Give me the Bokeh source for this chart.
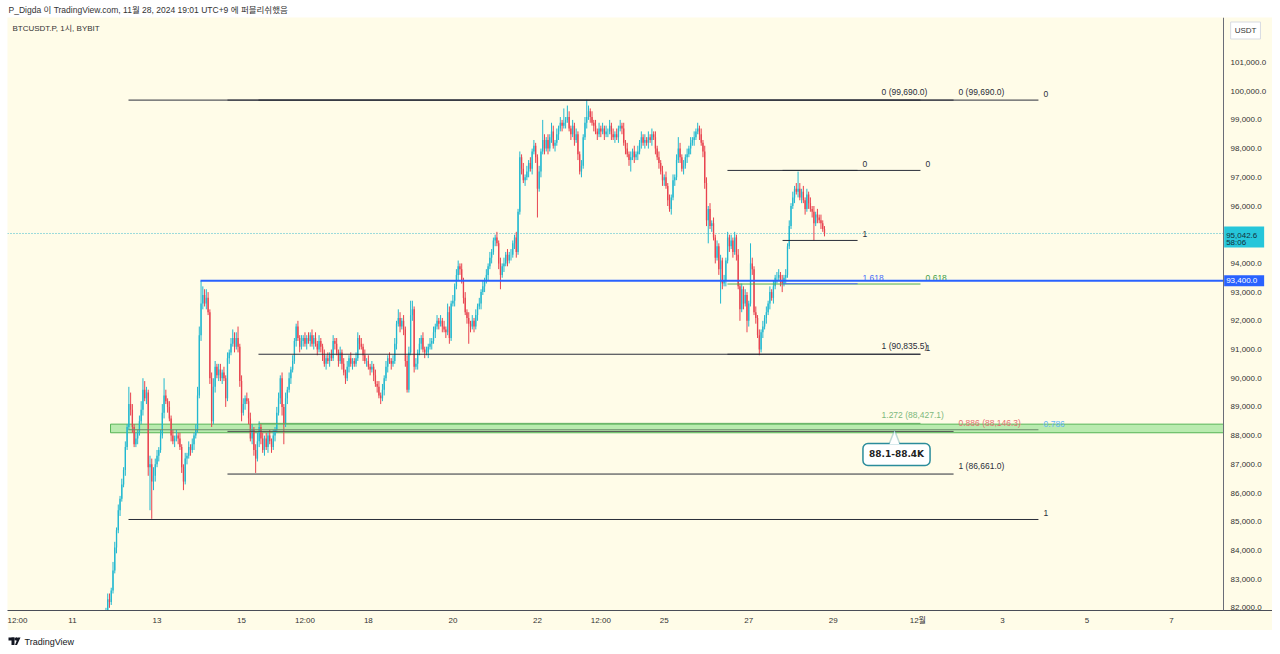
from bokeh.plotting import figure
from bokeh.models import (Range1d, FixedTicker, NumeralTickFormatter, Label, BoxAnnotation,
                          ColumnDataSource, PolyAnnotation, AllLabels, Spacer)
from bokeh.layouts import column, row
from bokeh.embed import file_html
from bokeh.resources import INLINE
from bokeh.core.properties import value

# ---------------- data (BTCUSDT.P, 1h candles, UTC+9) ----------------
# x = hours after 2024-11-11 00:00 (UTC+9)
start_hour = 16
first_open_k = 81.3
# hourly closes in thousand USDT, one row per day (Nov 11 from 16:00 ... Nov 28 to 19:00)
close_k = [
    81.4, 81.6, 81.7, 81.9, 82.3, 82.2, 82.6, 83.3,
    84.1, 84.7, 85.4, 85.8, 86.3, 86.8, 87.6, 88.3, 89.1, 88.9, 88.3, 87.7, 87.9, 88.1, 88.5, 88.9, 89.6, 89.3, 89.5, 86.9, 87.0, 86.4, 86.6, 87.0,
    87.3, 87.5, 88.0, 88.8, 89.4, 89.2, 89.0, 88.6, 88.0, 87.8, 87.9, 88.0, 87.9, 87.6, 86.9, 86.4, 87.2, 87.3, 87.6, 87.5, 87.7, 88.0, 88.2, 89.4,
    91.5, 92.6, 92.9, 92.6, 92.8, 92.3, 90.0, 88.5, 89.7, 90.4, 90.1, 90.3, 90.0, 90.2, 90.0, 89.3, 90.7, 90.9, 91.2, 91.4, 91.1, 91.4, 91.1, 89.9,
    88.8, 89.1, 89.3, 89.2, 88.6, 87.9, 88.2, 87.5, 87.2, 87.8, 88.3, 87.9, 87.5, 87.9, 87.6, 88.0, 87.8, 87.6, 88.0, 88.2, 88.8, 89.3, 90.0, 89.0,
    88.4, 89.3, 89.6, 90.0, 90.3, 90.6, 91.3, 91.8, 91.4, 91.1, 91.3, 91.4, 91.2, 91.4, 91.3, 91.5, 91.2, 91.4, 91.2, 91.0, 91.3, 91.1, 90.8, 90.5,
    90.7, 90.6, 90.8, 90.7, 91.3, 91.2, 90.9, 90.6, 90.9, 90.5, 90.2, 90.0, 90.4, 90.7, 90.5, 90.6, 90.5, 90.7, 91.4, 91.2, 91.1, 90.8, 90.6, 90.6,
    90.4, 90.3, 90.4, 90.1, 89.8, 89.7, 89.4, 89.3, 89.6, 90.0, 90.4, 90.7, 90.6, 90.5, 90.6, 91.2, 91.9, 92.1, 91.8, 92.0, 91.7, 90.6, 89.6, 90.9,
    92.2, 92.4, 90.4, 90.5, 90.9, 91.2, 91.4, 91.0, 90.9, 90.9, 91.1, 91.2, 91.3, 91.6, 91.8, 92.0, 91.9, 92.0, 91.8, 91.7, 91.6, 92.3, 91.4, 92.6,
    92.7, 93.2, 93.6, 93.9, 93.8, 93.4, 92.8, 92.3, 92.1, 91.9, 91.8, 92.0, 91.8, 92.2, 92.5, 92.6, 93.0, 93.2, 93.4, 93.6, 93.9, 94.2, 94.4, 94.8,
    94.9, 94.7, 94.0, 93.6, 93.9, 94.0, 94.3, 94.1, 94.3, 94.3, 94.7, 94.9, 94.4, 95.8, 97.7, 97.3, 96.9, 97.0, 97.2, 97.5, 97.3, 97.9, 98.1, 97.7,
    96.6, 97.2, 97.9, 98.3, 98.0, 98.3, 98.0, 98.4, 98.6, 98.1, 98.2, 98.5, 98.7, 98.9, 98.8, 98.9, 99.0, 99.1, 98.7, 98.5, 98.8, 98.3, 98.5, 97.8,
    97.2, 97.4, 98.4, 98.9, 99.1, 99.3, 99.1, 98.9, 98.8, 98.6, 98.5, 98.7, 98.6, 98.7, 98.5, 98.6, 98.6, 98.8, 98.5, 98.4, 98.5, 98.4, 98.7, 98.8,
    98.7, 98.2, 98.0, 97.8, 97.6, 97.7, 97.9, 97.7, 97.8, 97.9, 98.2, 98.4, 98.2, 98.3, 98.2, 98.4, 98.3, 98.5, 98.4, 98.0, 97.7, 97.5, 97.2, 96.9,
    97.0, 96.7, 96.2, 95.9, 96.3, 96.9, 97.0, 97.6, 98.0, 97.7, 97.3, 97.4, 97.7, 97.8, 98.0, 98.2, 98.3, 98.4, 98.6, 98.7, 98.5, 98.2, 97.9, 96.8,
    95.5, 95.9, 95.3, 95.4, 94.9, 94.2, 94.6, 93.8, 94.1, 93.3, 93.4, 94.1, 94.9, 94.6, 94.8, 94.4, 94.9, 94.3, 93.2, 92.4, 93.1, 92.6, 92.9, 92.0,
    92.6, 94.0, 93.8, 92.3, 92.1, 91.5, 91.0, 91.6, 91.8, 92.1, 92.3, 92.6, 93.0, 92.8, 93.2, 93.5, 93.5, 93.6, 93.4, 93.3, 93.5, 93.6, 94.6, 95.3,
    96.0, 96.3, 96.6, 96.5, 96.6, 96.3, 96.5, 96.2, 95.9, 96.4, 96.1, 95.9, 95.8, 95.4, 95.7, 95.6, 95.5, 95.4, 95.2, 95.0426,
]
# upper / lower wick beyond the body, in hundreds of USDT
wick_up = [
    1, 1, 2, 1, 2, 2, 1, 3,
    2, 1, 2, 1, 2, 1, 2, 1, 6, 4, 2, 1, 2, 1, 2, 3, 4, 3, 2, 1, 3, 2, 3, 2,
    2, 1, 2, 3, 6, 2, 1, 2, 1, 2, 1, 2, 1, 2, 1, 1, 2, 1, 2, 1, 2, 1, 2, 3,
    3, 8, 3, 2, 3, 2, 1, 2, 3, 2, 1, 2, 2, 1, 2, 1, 2, 1, 2, 3, 2, 2, 4, 1,
    2, 2, 1, 2, 1, 2, 2, 1, 2, 3, 2, 1, 2, 1, 2, 1, 2, 1, 2, 1, 2, 2, 1, 2,
    1, 2, 1, 2, 1, 2, 1, 1, 2, 1, 2, 1, 2, 1, 2, 1, 2, 1, 2, 1, 2, 1, 1, 2,
    1, 2, 1, 2, 2, 1, 2, 1, 2, 1, 2, 1, 2, 1, 2, 1, 1, 2, 2, 1, 2, 1, 2, 1,
    2, 1, 2, 1, 2, 1, 2, 1, 2, 1, 2, 1, 2, 1, 2, 2, 1, 3, 2, 1, 2, 1, 2, 2,
    5, 3, 1, 2, 1, 2, 1, 2, 1, 2, 1, 2, 1, 2, 1, 2, 1, 2, 1, 2, 1, 3, 2, 1,
    2, 1, 2, 2, 1, 2, 1, 2, 1, 2, 1, 2, 1, 2, 1, 2, 1, 2, 1, 2, 1, 2, 1, 1,
    1, 2, 1, 2, 1, 2, 1, 2, 1, 2, 1, 1, 2, 1, 2, 1, 2, 1, 2, 1, 2, 1, 2, 1,
    1, 2, 1, 7, 2, 1, 2, 1, 3, 2, 1, 2, 1, 2, 1, 5, 1, 4, 2, 1, 2, 1, 2, 1,
    1, 2, 1, 2, 6, 2, 1, 2, 1, 2, 1, 2, 1, 2, 1, 2, 1, 2, 1, 2, 1, 2, 1, 2,
    1, 2, 1, 2, 1, 2, 1, 2, 1, 2, 1, 2, 1, 2, 1, 2, 1, 2, 1, 2, 1, 2, 1, 2,
    1, 2, 1, 2, 1, 2, 1, 2, 4, 2, 1, 2, 1, 2, 1, 2, 1, 2, 1, 2, 1, 2, 1, 2,
    2, 1, 2, 1, 2, 1, 2, 1, 2, 1, 2, 1, 2, 1, 2, 1, 2, 1, 2, 1, 2, 1, 2, 1,
    1, 7, 2, 1, 2, 1, 2, 1, 2, 1, 2, 1, 2, 1, 2, 1, 2, 2, 1, 2, 1, 2, 1, 2,
    1, 2, 1, 2, 6, 2, 1, 2, 1, 2, 1, 2, 1, 2, 1, 2, 1, 2, 1, 1,
]
wick_dn = [
    1, 2, 1, 1, 1, 2, 1, 1,
    1, 2, 1, 2, 1, 1, 2, 1, 1, 2, 2, 1, 1, 2, 1, 1, 2, 1, 2, 3, 15, 13, 3, 2,
    1, 2, 1, 1, 2, 1, 2, 1, 2, 1, 2, 1, 2, 1, 2, 3, 1, 2, 1, 2, 1, 2, 1, 1,
    1, 2, 2, 1, 2, 1, 2, 2, 1, 2, 1, 2, 1, 2, 1, 3, 1, 2, 1, 1, 2, 1, 2, 2,
    3, 1, 2, 1, 2, 1, 2, 2, 5, 1, 2, 2, 1, 2, 1, 2, 1, 2, 1, 2, 1, 1, 2, 3,
    7, 1, 2, 1, 2, 1, 1, 2, 1, 2, 1, 2, 1, 2, 1, 2, 1, 2, 1, 2, 1, 2, 2, 1,
    2, 1, 2, 1, 1, 2, 1, 2, 1, 2, 1, 2, 1, 2, 1, 2, 1, 1, 1, 2, 1, 2, 1, 2,
    1, 2, 1, 2, 1, 2, 1, 2, 1, 2, 1, 2, 1, 2, 1, 1, 2, 1, 2, 1, 2, 2, 1, 1,
    1, 2, 2, 1, 2, 1, 2, 1, 2, 1, 2, 1, 2, 1, 2, 1, 2, 1, 2, 1, 2, 1, 2, 1,
    1, 2, 1, 2, 2, 1, 2, 1, 2, 7, 2, 1, 2, 1, 2, 1, 2, 1, 2, 1, 2, 1, 2, 1,
    2, 1, 2, 5, 1, 2, 1, 2, 1, 2, 1, 2, 2, 1, 1, 2, 1, 2, 1, 2, 1, 2, 1, 2,
    10, 1, 2, 1, 2, 1, 2, 1, 2, 1, 2, 1, 2, 1, 2, 1, 2, 1, 1, 2, 1, 2, 1, 2,
    1, 2, 1, 1, 2, 1, 2, 1, 2, 1, 2, 1, 2, 1, 2, 1, 2, 1, 2, 1, 2, 1, 2, 1,
    2, 1, 2, 1, 2, 4, 1, 2, 1, 2, 1, 2, 1, 2, 1, 2, 1, 2, 1, 2, 1, 2, 1, 2,
    2, 1, 2, 1, 2, 1, 2, 1, 1, 2, 1, 2, 1, 2, 1, 2, 1, 2, 1, 1, 2, 1, 2, 2,
    2, 8, 1, 2, 1, 2, 1, 2, 12, 2, 1, 2, 1, 2, 1, 2, 1, 2, 1, 4, 1, 2, 1, 4,
    2, 1, 2, 1, 2, 1, 2, 1, 2, 1, 2, 1, 2, 1, 2, 1, 2, 1, 2, 3, 1, 2, 1, 1,
    1, 1, 2, 1, 2, 1, 2, 1, 2, 1, 2, 1, 2, 6, 1, 2, 1, 2, 1, 1,
]

last_price = 95042.6
countdown = "58:06"
hline_price = 93400.0
hline_start_h = 72.7
zone_low, zone_high = 88100.0, 88400.0
zone_start_h = 21.6
callout_text = "88.1-88.4K"

# Fibonacci drawings: level prices with start / end time (hours) and the label time
fib_price = [99690.0, 88205.0, 85078.0,
             99690.0, 88146.3, 86661.0,
             99690.0, 90835.5, 88427.1,
             97240.0, 93282.0, 90835.5,
             97240.0, 94800.0, 93292.0]
fib_h0 = [31.8] * 3 + [88.0] * 3 + [105.6] * 3 + [371.9] * 3 + [403.2] * 3
fib_h1 = [548.5] * 3 + [500.3] * 3 + [481.5] * 3 + [481.5] * 3 + [445.8] * 3
fib_label_h = [551.4] * 3 + [503.1] * 3 + [459.4] * 3 + [484.4] * 3 + [448.6] * 3
fib_text = ["0", "0.786", "1",
            "0 (99,690.0)", "0.886 (88,146.3)", "1 (86,661.0)",
            "0 (99,690.0)", "1 (90,835.5)", "1.272 (88,427.1)",
            "0", "0.618", "1",
            "0", "1", "1.618"]

# x-axis ticks (hours after Nov 11 00:00) and labels
xtick_h = [-36, 0, 48, 96, 132, 168, 216, 264, 300, 336, 384, 432, 480, 528, 576, 624]
xtick_lab = ["12:00", "11", "13", "15", "12:00", "18", "20", "22", "12:00",
             "25", "27", "29", "12월", "3", "5", "7"]
ytick_vals = list(range(82000, 102000, 1000))

header_text = "P_Digda 이 TradingView.com, 11월 28, 2024 19:01 UTC+9 에 퍼블리쉬했음"
symbol_text = "BTCUSDT.P, 1시, BYBIT"

# ---------------- styles / geometry ----------------
BG = "#fffce8"
UP, DN = "#22b8d0", "#e8434f"
FONT = "Liberation Sans, Noto Sans CJK KR"
fib_line_color = ["#2a2e39", "#6b8e6b", "#2a2e39",
                  "#2a2e39", "#555555", "#2a2e39",
                  "#2a2e39", "#2a2e39", "#5fae5f",
                  "#2a2e39", "#4caf50", "#2a2e39",
                  "#2a2e39", "#2a2e39", "#4a6cf7"]
fib_text_color = ["#2a2e39", "#64b5f6", "#2a2e39",
                  "#2a2e39", "#e57373", "#2a2e39",
                  "#2a2e39", "#2a2e39", "#7cb87c",
                  "#2a2e39", "#43a047", "#2a2e39",
                  "#2a2e39", "#2a2e39", "#4a6cf7"]

X0, X1 = -36.91, 681.4      # frame spans the price-scale strip too
XA = 653.6                  # where the price scale begins
Y0, Y1 = 81907.0, 102568.0
PX_H = 1.761                # pixels per hour
USD_PX = 34.84              # USDT per pixel
TAG_W = 40 / PX_H           # price-tag width in hours

# ---------------- candles ----------------
n = min(len(close_k), len(wick_up), len(wick_dn))
hours = [start_hour + i for i in range(n)]
closes = [c * 1000 for c in close_k[:n]]
opens = [first_open_k * 1000] + closes[:-1]
highs = [max(o, c) + u * 100 for o, c, u in zip(opens, closes, wick_up)]
lows = [min(o, c) - d * 100 for o, c, d in zip(opens, closes, wick_dn)]
colors = [UP if c >= o else DN for o, c in zip(opens, closes)]
src = ColumnDataSource(dict(x=hours, top=[max(o, c) for o, c in zip(opens, closes)],
                            bottom=[min(o, c) for o, c in zip(opens, closes)],
                            high=highs, low=lows, color=colors))

# ---------------- header ----------------
hdr = figure(width=1272, height=17, x_range=Range1d(0, 1272), y_range=Range1d(0, 17),
             output_backend="svg", toolbar_location=None,
             x_axis_location=None, y_axis_location=None,
             min_border_left=0, min_border_right=0, min_border_top=0, min_border_bottom=0)
hdr.outline_line_color = None
hdr.grid.visible = False
hdr.background_fill_color = "white"
hdr.border_fill_color = "white"
hdr.text(x=[8], y=[8], text=[header_text], text_font=value(FONT), text_font_size="8.5px",
         text_baseline="middle", text_color="#333333")

# ---------------- main chart ----------------
p = figure(width=1265, height=613, x_range=Range1d(X0, X1), y_range=Range1d(Y0, Y1),
           y_axis_location="right", output_backend="svg", toolbar_location=None,
           min_border_left=0, min_border_right=0, min_border_top=0, min_border_bottom=20)
p.background_fill_color = BG
p.border_fill_color = BG
p.outline_line_color = None
p.grid.visible = False

ya = p.yaxis[0]
ya.fixed_location = XA
ya.ticker = FixedTicker(ticks=ytick_vals)
ya.formatter = NumeralTickFormatter(format="0,0.0")
ya.major_tick_line_color = None
ya.minor_tick_line_color = None
ya.major_tick_out = 0
ya.major_tick_in = 0
ya.axis_line_color = "#6a6d78"
ya.major_label_standoff = 7
ya.major_label_text_font = FONT
ya.major_label_text_font_size = "8px"
ya.major_label_text_color = "#333333"

xa = p.xaxis[0]
xa.ticker = FixedTicker(ticks=xtick_h)
xa.major_label_overrides = {h: s for h, s in zip(xtick_h, xtick_lab)}
xa.major_label_policy = AllLabels()
xa.major_tick_line_color = None
xa.minor_tick_line_color = None
xa.major_tick_out = 0
xa.major_tick_in = 0
xa.axis_line_color = "#4a4d57"
xa.major_label_standoff = 5
xa.major_label_text_font = FONT
xa.major_label_text_font_size = "8px"
xa.major_label_text_color = "#333333"

# zone 88.1k - 88.4k
p.quad(left=[zone_start_h], right=[XA], bottom=[zone_low], top=[zone_high],
       fill_color="#a8e6a0", fill_alpha=0.8, line_color="#56b556", line_width=1)

# current price dotted line
p.segment(x0=[X0], y0=[last_price], x1=[XA], y1=[last_price], line_color="#26b5cc",
          line_dash="1 2", line_width=1, line_alpha=0.9)

# candles
p.segment(x0="x", y0="low", x1="x", y1="high", line_color="color", line_width=1, source=src)
p.vbar(x="x", width=0.75, top="top", bottom="bottom", fill_color="color",
       line_color=None, source=src)

# fib levels
p.segment(x0=fib_h0, y0=fib_price, x1=fib_h1, y1=fib_price,
          line_color=fib_line_color, line_width=1)
p.text(x=fib_label_h, y=fib_price, text=fib_text, text_color=fib_text_color,
       text_font=value(FONT), text_font_size="8.5px", text_baseline="bottom", y_offset=-3)

# blue horizontal line
p.segment(x0=[hline_start_h], y0=[hline_price], x1=[XA], y1=[hline_price],
          line_color="#2962ff", line_width=2)

# symbol label
p.add_layout(Label(x=-34.1, y=102185, text=symbol_text, text_font=FONT,
                   text_font_size="8px", text_color="#333333", text_baseline="middle"))

# callout
p.add_layout(Label(x=467.9, y=87343, text=callout_text, text_font="DejaVu Sans",
                   text_font_style="bold", text_font_size="9px", text_color="#222222",
                   text_align="center", text_baseline="middle",
                   background_fill_color="white", border_line_color="#2b8c9b",
                   border_line_width=1.5, padding=6, border_radius=5))
p.add_layout(PolyAnnotation(xs=[463.9, 466.8, 469.6], ys=[87700, 88179, 87700],
                            fill_color="white", fill_alpha=1, line_color=None))
p.add_layout(PolyAnnotation(xs=[463.9, 466.8, 469.6, 466.8], ys=[87743, 88179, 87743, 88179],
                            fill_alpha=0, line_color="#2b8c9b", line_width=1.5))

# price-scale tags (boxes drawn above the scale labels)
tag_left = XA + 0.6 / PX_H
p.add_layout(BoxAnnotation(left=tag_left, right=tag_left + TAG_W,
                           top=last_price + 7 * USD_PX, bottom=last_price - 14 * USD_PX,
                           fill_color="#26c6da", fill_alpha=1, line_color=None))
p.add_layout(Label(x=tag_left, y=last_price - 2 * USD_PX, x_offset=2, text="95,042.6",
                   text_font=FONT, text_font_size="8px", text_color="#12303a",
                   text_align="left", text_baseline="middle"))
p.add_layout(Label(x=tag_left, y=last_price - 9.5 * USD_PX, x_offset=2, text=countdown,
                   text_font=FONT, text_font_size="8px", text_color="#12303a",
                   text_align="left", text_baseline="middle"))
p.add_layout(BoxAnnotation(left=tag_left, right=tag_left + TAG_W,
                           top=hline_price + 5.5 * USD_PX, bottom=hline_price - 5.5 * USD_PX,
                           fill_color="#2962ff", fill_alpha=1, line_color=None))
p.add_layout(Label(x=tag_left, y=hline_price, x_offset=2, text="93,400.0",
                   text_font=FONT, text_font_size="8px", text_color="white",
                   text_align="left", text_baseline="middle"))
p.add_layout(Label(x=666.1, y=102115, text="USDT", text_font=FONT, text_font_size="8px",
                   text_color="#333333", text_align="center", text_baseline="middle",
                   background_fill_color="white", border_line_color="#d8dbe2", padding=4))

# ---------------- footer ----------------
ftr = figure(width=1272, height=24, x_range=Range1d(0, 1272), y_range=Range1d(0, 24),
             output_backend="svg", toolbar_location=None,
             x_axis_location=None, y_axis_location=None,
             min_border_left=0, min_border_right=0, min_border_top=0, min_border_bottom=0)
ftr.outline_line_color = None
ftr.grid.visible = False
ftr.background_fill_color = "white"
ftr.border_fill_color = "white"
ftr.quad(left=[8, 11], right=[14, 14], bottom=[14, 9.5], top=[17, 17], fill_color="#131722", line_color=None)
ftr.scatter(x=[16], y=[15.5], size=3.5, fill_color="#131722", line_color=None)
ftr.patch(x=[17.5, 20, 16.5, 14.5], y=[17, 17, 9.5, 9.5], fill_color="#131722", line_color=None)
ftr.text(x=[24], y=[13], text=["TradingView"], text_font=value(FONT), text_font_size="9px",
         text_baseline="middle", text_color="#131722")

layout = column(hdr, row(Spacer(width=7, height=613), p), ftr)
open("out.html", "w").write(file_html(layout, INLINE))
